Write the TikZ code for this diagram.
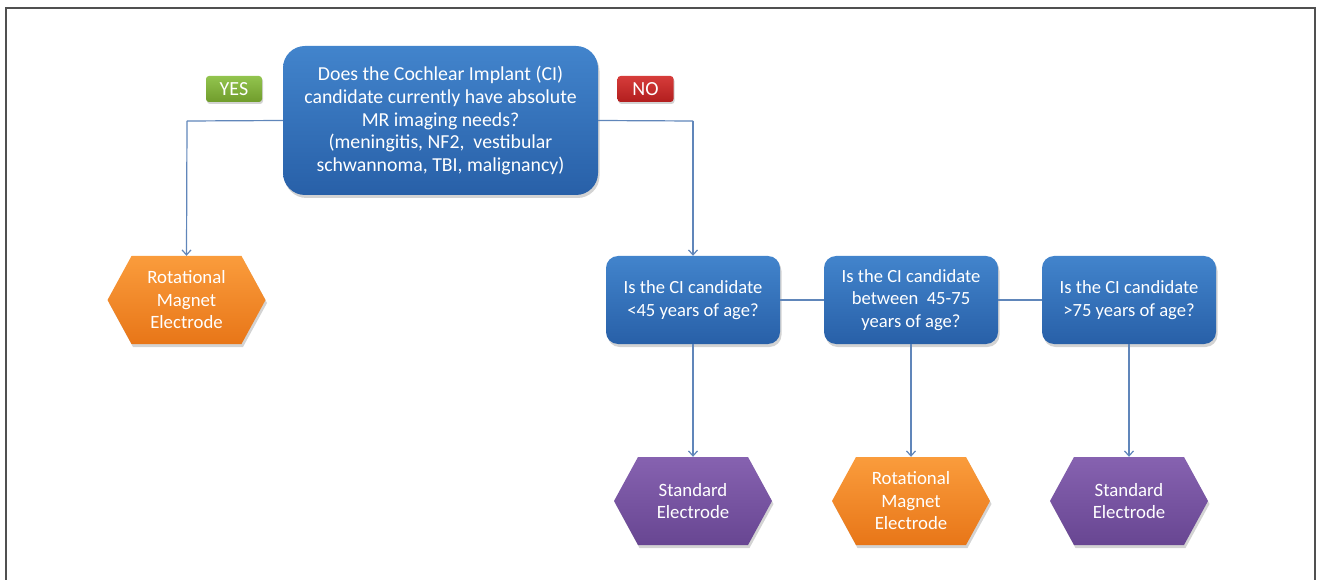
\documentclass[tikz,border=0pt]{standalone}
\usepackage{fontspec}
\setmainfont{Carlito}
\usetikzlibrary{arrows.meta,shadows}
\definecolor{bluetop}{RGB}{66,132,204}
\definecolor{bluebot}{RGB}{40,96,168}
\definecolor{orgtop}{RGB}{250,156,60}
\definecolor{orgbot}{RGB}{232,118,24}
\definecolor{purtop}{RGB}{134,98,176}
\definecolor{purbot}{RGB}{104,70,146}
\definecolor{grntop}{RGB}{146,196,78}
\definecolor{grnbot}{RGB}{112,156,44}
\definecolor{redtop}{RGB}{214,60,58}
\definecolor{redbot}{RGB}{178,30,30}
\definecolor{linec}{RGB}{96,134,186}
\definecolor{framec}{RGB}{80,80,80}
\tikzset{
  qbox/.style={rounded corners=12pt, top color=bluetop, bottom color=bluebot, draw=none,
    text=white, align=center, minimum width=174pt, minimum height=88pt, inner sep=0pt,
    font=\fontsize{18.6}{22.3}\selectfont,
    drop shadow={opacity=0.35, shadow xshift=1.5pt, shadow yshift=-3pt}},
  mainbox/.style={qbox, rounded corners=22pt, minimum width=315pt, minimum height=149pt,
    font=\fontsize{19.8}{22.8}\selectfont},
  tag/.style={rounded corners=3pt, draw=none, text=white, minimum width=56pt, minimum height=26pt,
    inner sep=0pt, font=\fontsize{20}{22}\selectfont,
    drop shadow={opacity=0.35, shadow xshift=1pt, shadow yshift=-2pt}},
  hexlabel/.style={text=white, align=center, minimum width=158pt, minimum height=88pt, inner sep=0pt,
    font=\fontsize{18.8}{22.5}\selectfont},
  conn/.style={draw=linec, line width=1.2pt},
  arr/.style={conn, -{Straight Barb[length=5pt,width=9pt,line width=1.2pt]}},
}
\newcommand\hexshape[5]{% name, cx, cy, topcolor, bottomcolor
  \path[top color=#4, bottom color=#5, drop shadow={opacity=0.35, shadow xshift=1.5pt, shadow yshift=-3pt}]
    (#2-79,#3) -- (#2-55,#3-44) -- (#2+55,#3-44) -- (#2+79,#3) -- (#2+55,#3+44) -- (#2-55,#3+44) -- cycle;
}
\begin{document}
\begin{tikzpicture}[x=1pt,y=-1pt]
\useasboundingbox (0,0) rectangle (1318,580);
\draw[framec, line width=2pt] (6,581) -- (6,8) -- (1315,8) -- (1315,581);

\node[mainbox] (main) at (440.5,120.5) {Does the Cochlear Implant (CI)\\candidate currently have absolute\\MR imaging needs?\\(meningitis, NF2,\ \ vestibular\\schwannoma, TBI, malignancy)};

\node[tag, top color=grntop, bottom color=grnbot] (yes) at (234,89) {YES};
\node[tag, top color=redtop, bottom color=redbot] (no) at (645.5,89) {NO};

\node[qbox] (b1) at (693,300) {Is the CI candidate\\<45 years of age?};
\node[qbox] (b2) at (911,300) {Is the CI candidate\\between\ \ 45-75\\years of age?};
\node[qbox] (b3) at (1129,300) {Is the CI candidate\\>75 years of age?};

\hexshape{hl}{186.5}{300}{orgtop}{orgbot}
\node[hexlabel] (hl) at (186.5,300) {Rotational\\Magnet\\Electrode};
\hexshape{h1}{693}{501}{purtop}{purbot}
\node[hexlabel] (h1) at (693,501) {Standard\\Electrode};
\hexshape{h2}{911}{501}{orgtop}{orgbot}
\node[hexlabel] (h2) at (911,501) {Rotational\\Magnet\\Electrode};
\hexshape{h3}{1129}{501}{purtop}{purbot}
\node[hexlabel] (h3) at (1129,501) {Standard\\Electrode};

\coordinate (cl) at (187,121);
\coordinate (cr) at (693,121);
\draw[conn] (main.west) -- (cl);
\draw[arr] (cl) -- (hl.north);
\draw[conn] (main.east) -- (cr);
\draw[arr] (cr) -- (b1.north);
\draw[conn] (b1.east) -- (b2.west);
\draw[conn] (b2.east) -- (b3.west);
\draw[arr] (b1.south) -- (h1.north);
\draw[arr] (b2.south) -- (h2.north);
\draw[arr] (b3.south) -- (h3.north);
\end{tikzpicture}
\end{document}
